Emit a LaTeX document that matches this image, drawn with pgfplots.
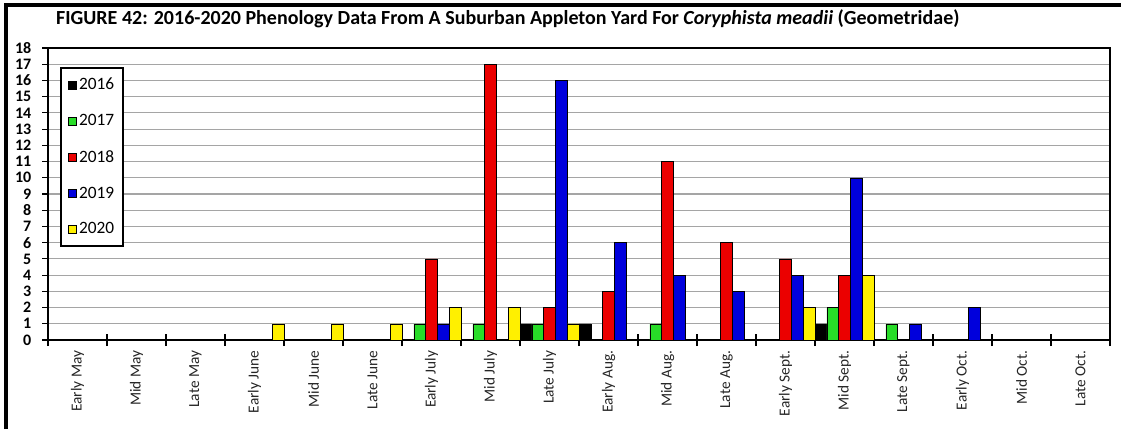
\documentclass[border=0pt]{standalone}
\usepackage{pgfplots}
\pgfplotsset{compat=1.18}
\usepackage{fontspec}
\setmainfont{Carlito}
\definecolor{c2016}{RGB}{0,0,0}
\definecolor{c2017}{RGB}{40,220,40}
\definecolor{c2018}{RGB}{235,0,0}
\definecolor{c2019}{RGB}{0,0,220}
\definecolor{c2020}{RGB}{255,240,0}
\definecolor{gridgray}{RGB}{165,165,165}
\pgfplotsset{
  yrbar/.style={draw=black, line width=0.4pt,
    legend image code/.code={\draw[##1, line width=0.5pt] (0pt,-3pt) rectangle (6pt,3pt);}},
}
\begin{document}
\begin{tikzpicture}
\begin{axis}[
  at={(0,0)}, anchor=south west,
  scale only axis, width=796.5pt, height=219pt,
  ybar, bar width=0.2,
  xmin=-0.5, xmax=17.5, ymin=0, ymax=18,
  xtick={-0.5,0.5,...,17.5}, x tick label as interval,
  xticklabels={Early May,Mid May,Late May,Early June,Mid June,Late June,Early July,Mid July,Late July,Early Aug.,Mid Aug.,Late Aug.,Early Sept.,Mid Sept.,Late Sept.,Early Oct.,Mid Oct.,Late Oct.},
  xticklabel style={rotate=90, anchor=east, font=\fontsize{11.5}{11.5}\selectfont, black!85},
  ytick={0,...,18},
  yticklabel style={font=\bfseries\fontsize{12}{12}\selectfont},
  /pgf/number format/assume math mode=true,
  xtick align=center, ytick align=outside,
  major tick length=9pt,
  xtick pos=bottom, ytick pos=left,
  tick style={black, line width=0.8pt},
  ytick style={draw=none},
  extra y ticks={0,...,18}, extra y tick labels={},
  extra y tick style={ytick style={draw=black, line width=0.8pt}, major tick length=4.5pt, grid=none, ytick align=outside},
  ymajorgrids, grid style={gridgray, line width=0.8pt},
  axis line style={black, line width=1.2pt},
  title={\bfseries FIGURE 42: 2016-2020 Phenology Data From A Suburban Appleton Yard For \textit{Coryphista meadii} (Geometridae)},
  title style={at={(0.433,1.072)}, anchor=center, font=\fontsize{15}{17}\selectfont},
  legend style={at={(0.0113,0.935)}, anchor=north west, draw=black, line width=1.5pt,
    font=\fontsize{13}{14}\selectfont, row sep=13pt, inner ysep=5.5pt, inner xsep=5pt},
  legend cell align=left,
]
\addplot[yrbar, fill=c2016, bar shift=-0.4] coordinates {(8,1) (9,1) (13,1)};
\addplot[yrbar, fill=c2017, bar shift=-0.2] coordinates {(6,1) (7,1) (8,1) (10,1) (13,2) (14,1)};
\addplot[yrbar, fill=c2018, bar shift=0] coordinates {(6,5) (7,17) (8,2) (9,3) (10,11) (11,6) (12,5) (13,4)};
\addplot[yrbar, fill=c2019, bar shift=0.2] coordinates {(6,1) (8,16) (9,6) (10,4) (11,3) (12,4) (13,10) (14,1) (15,2)};
\addplot[yrbar, fill=c2020, bar shift=0.4] coordinates {(3,1) (4,1) (5,1) (6,2) (7,2) (8,1) (12,2) (13,4)};
\legend{2016,2017,2018,2019,2020}
\end{axis}
\draw[line width=3pt] (-31.5pt,-66.75pt) -- (-31.5pt,251.6pt) -- (804.75pt,251.6pt);
\pgfresetboundingbox
\useasboundingbox (-36pt,-66.75pt) rectangle (804.75pt,255pt);
\end{tikzpicture}
\end{document}
